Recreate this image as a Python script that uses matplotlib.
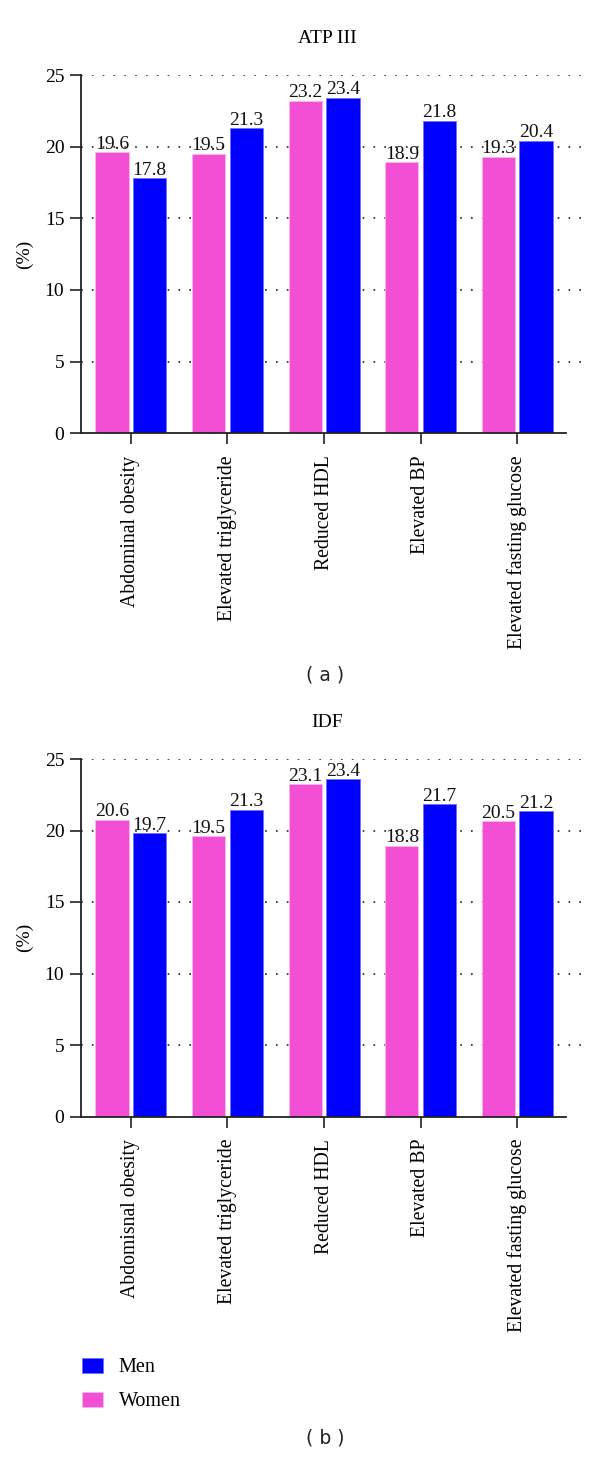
import matplotlib
matplotlib.use("Agg")
import matplotlib.pyplot as plt
import numpy as np
from matplotlib.patches import Patch

# ---- data ----
cats_a = ["Abdominal obesity", "Elevated triglyceride", "Reduced HDL",
          "Elevated BP", "Elevated fasting glucose"]
cats_b = ["Abdomisnal obesity", "Elevated triglyceride", "Reduced HDL",
          "Elevated BP", "Elevated fasting glucose"]
women_a = [19.6, 19.5, 23.2, 18.9, 19.3]
men_a = [17.8, 21.3, 23.4, 21.8, 20.4]
women_a_lbl = ["19.6", "19.5", "23.2", "18.9", "19.3"]
men_a_lbl = ["17.8", "21.3", "23.4", "21.8", "20.4"]
# IDF bars as drawn (slightly above their printed labels)
women_b = [20.75, 19.6, 23.25, 18.95, 20.65]
men_b = [19.8, 21.45, 23.6, 21.85, 21.35]
women_b_lbl = ["20.6", "19.5", "23.1", "18.8", "20.5"]
men_b_lbl = ["19.7", "21.3", "23.4", "21.7", "21.2"]
yticks = [0, 5, 10, 15, 20, 25]

PINK = "#F24FD5"
BLUE = "#0000FF"
SERIF = ["Liberation Serif", "DejaVu Serif"]

W, H = 600, 1459
fig = plt.figure(figsize=(W / 100, H / 100), dpi=100)


def px_axes(x0, x1, ytop, ybot):
    return fig.add_axes([x0 / W, 1 - ybot / H, (x1 - x0) / W, (ybot - ytop) / H])


def draw(ax, cats, women, men, wl, ml, title):
    x = np.arange(len(cats))
    off, bw = 0.195, 0.345
    for v in yticks[1:]:
        ax.axhline(v, color="#222222", lw=1.2, ls=(0, (1, 5.5)), zorder=0)
    bp = ax.bar(x - off, women, bw, color=PINK, edgecolor="#F8B8EE", lw=0.6, zorder=2)
    bb = ax.bar(x + off, men, bw, color=BLUE, edgecolor="#7070FF", lw=0.6, zorder=2)
    for rects, labels in ((bp, wl), (bb, ml)):
        for r, t in zip(rects, labels):
            ax.annotate(t, (r.get_x() + r.get_width() / 2, r.get_height()),
                        xytext=(0, 2.5), textcoords="offset points",
                        ha="center", va="baseline", fontsize=14,
                        family=SERIF, color="#111111")
    ax.set_xlim(-0.515, 4.68)
    ax.set_ylim(0, 25)
    ax.set_yticks(yticks)
    ax.set_xticks(x)
    ax.set_xticklabels(cats, rotation=90, family=SERIF, fontsize=14.2, va="top")
    for lab in ax.get_yticklabels():
        lab.set_family(SERIF)
        lab.set_fontsize(14)
    ax.tick_params(axis="both", direction="out", length=8, width=1.2, color="#222222")
    ax.tick_params(axis="y", pad=4)
    ax.tick_params(axis="x", pad=8)
    for s in ("top", "right"):
        ax.spines[s].set_visible(False)
    for s in ("left", "bottom"):
        ax.spines[s].set_linewidth(1.3)
        ax.spines[s].set_color("#222222")
    ax.spines["bottom"].set_bounds(-0.515, 4.5)
    ax.set_ylabel("(%)", family=SERIF, fontsize=14, labelpad=8)
    ax.set_title(title, family=SERIF, fontsize=14, pad=23, x=0.49)
    return bp, bb


ax1 = px_axes(81, 583, 75, 433.3)
draw(ax1, cats_a, women_a, men_a, women_a_lbl, men_a_lbl, "ATP III")
ax2 = px_axes(81, 583, 759, 1116.5)
bp, bb = draw(ax2, cats_b, women_b, men_b, women_b_lbl, men_b_lbl, "IDF")

fig.text(325 / W, 1 - 675 / H, "( a )", ha="center", va="center",
         fontsize=13.5, family="DejaVu Sans", color="#222222")
fig.text(325 / W, 1 - 1438 / H, "( b )", ha="center", va="center",
         fontsize=13.5, family="DejaVu Sans", color="#222222")

handles = [Patch(facecolor=BLUE, edgecolor="#7070FF", lw=0.6),
           Patch(facecolor=PINK, edgecolor="#F8B8EE", lw=0.6)]
fig.legend(handles, ["Men", "Women"], loc="upper left",
           bbox_to_anchor=(81.5 / W, 1 - 1358 / H), frameon=False,
           borderpad=0, borderaxespad=0, handlelength=1.05, handleheight=0.75,
           handletextpad=0.8, labelspacing=0.72,
           prop={"family": SERIF, "size": 14.5})

fig.savefig("out.png", dpi=100)
